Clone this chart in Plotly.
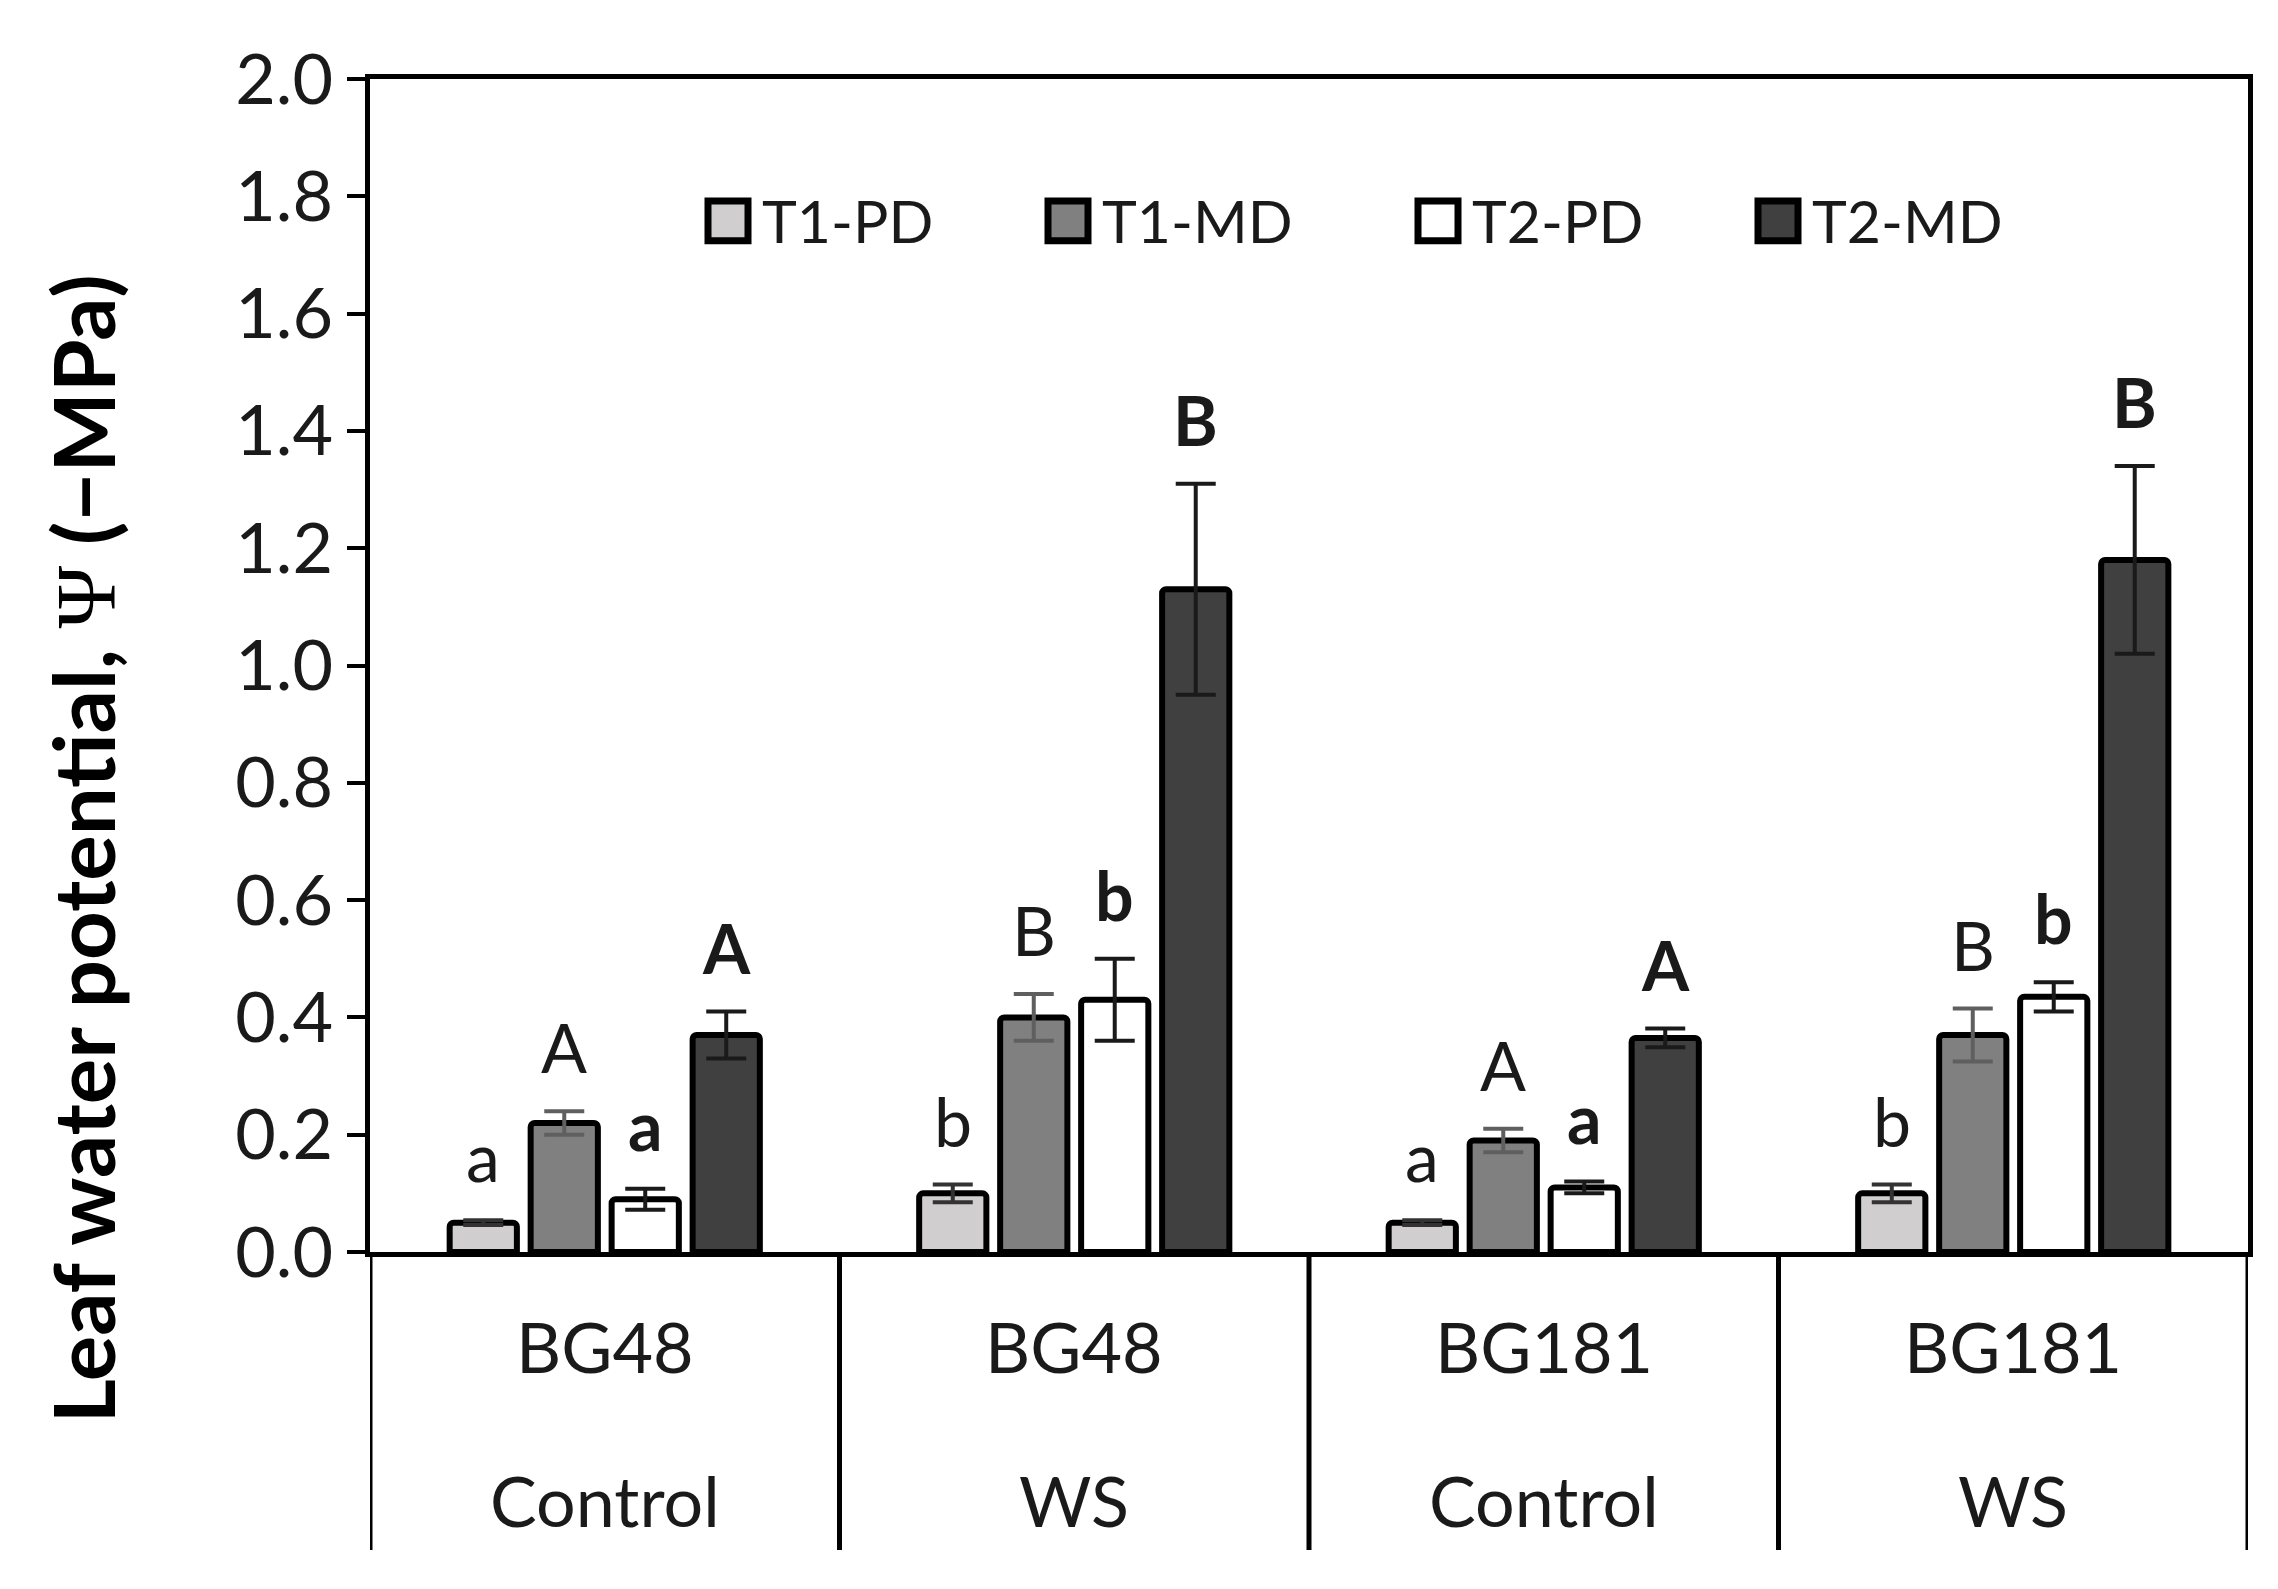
import plotly.graph_objects as go

# ---- data ----
genotype = ["BG48", "BG48", "BG181", "BG181"]
treatment = ["Control", "WS", "Control", "WS"]
groups = [g + " " + t for g, t in zip(genotype, treatment)]

series = ["T1-PD", "T1-MD", "T2-PD", "T2-MD"]
t1_pd = [0.05, 0.10, 0.05, 0.10]
t1_md = [0.22, 0.40, 0.19, 0.37]
t2_pd = [0.09, 0.43, 0.11, 0.435]
t2_md = [0.37, 1.13, 0.365, 1.18]
t1_pd_err = [0.004, 0.015, 0.004, 0.015]
t1_md_err = [0.02, 0.04, 0.02, 0.045]
t2_pd_err = [0.018, 0.07, 0.01, 0.025]
t2_md_err = [0.04, 0.18, 0.016, 0.16]
t1_pd_let = ["a", "b", "a", "b"]
t1_md_let = ["A", "B", "A", "B"]
t2_pd_let = ["a", "b", "a", "b"]
t2_md_let = ["A", "B", "A", "B"]

values = [t1_pd, t1_md, t2_pd, t2_md]
errors = [t1_pd_err, t1_md_err, t2_pd_err, t2_md_err]
letters = [t1_pd_let, t1_md_let, t2_pd_let, t2_md_let]
bold_letters = [False, False, True, True]
fills = ["#d0cece", "#808080", "#ffffff", "#404040"]
err_cols = ["#333333", "#5f5f5f", "#1a1a1a", "#1a1a1a"]

FONT = "Lato"
TXT = "#1a1a1a"
W, H = 2278, 1589
L, R, T, B = 362, 38, 71, 345

fig = go.Figure()

for k in range(4):
    fig.add_trace(go.Bar(
        x=groups, y=values[k], name=series[k],
        marker=dict(color=fills[k], line=dict(color="black", width=6), cornerradius=4),
        error_y=dict(type="data", array=errors[k], color=err_cols[k],
                     thickness=4, width=20),
        showlegend=False,
    ))

#-----------------------------------------------------------------
# significance letters above the error bars
#-----------------------------------------------------------------
bargap = 0.31
grp_w = 1 - bargap
ann = []
for k in range(4):
    off = -grp_w / 2 + grp_w / 4 * (k + 0.5)
    for i in range(len(groups)):
        txt = letters[k][i]
        if bold_letters[k]:
            txt = "<b>" + txt + "</b>"
        ann.append(dict(x=i + off, y=values[k][i] + errors[k][i], xref="x", yref="y",
                        text=txt, showarrow=False, yanchor="bottom", yshift=22,
                        font=dict(family=FONT, size=68, color=TXT)))

#-----------------------------------------------------------------
# two-row category labels + box dividers under the axis
#-----------------------------------------------------------------
for i in range(len(groups)):
    ann.append(dict(x=i, y=-0.080, xref="x", yref="paper", text=genotype[i],
                    showarrow=False, yanchor="middle",
                    font=dict(family=FONT, size=70, color=TXT)))
    ann.append(dict(x=i, y=-0.211, xref="x", yref="paper", text=treatment[i],
                    showarrow=False, yanchor="middle",
                    font=dict(family=FONT, size=70, color=TXT)))

shapes = []
for i in range(len(groups) + 1):
    shapes.append(dict(type="line", xref="x", yref="paper", x0=i - 0.5, x1=i - 0.5,
                       y0=0, y1=-0.254, line=dict(color="black", width=5)))

# y title (kept as annotation so it can sit below centre like the original)
ann.append(dict(x=-0.153, y=0.344, xref="paper", yref="paper", textangle=-90,
                text="<b>Leaf water potential, </b><span style=\"font-family:'Liberation Serif'\">Ψ</span><b> (−MPa)</b>",
                showarrow=False, xanchor="center", yanchor="middle",
                font=dict(family=FONT, size=85, color="black")))

#-----------------------------------------------------------------
# legend inside the plot area
#-----------------------------------------------------------------
pw = W - L - R
def px(xo):
    return (xo - L) / pw

leg_sq = [700, 1040, 1410, 1750]
for k in range(4):
    shapes.append(dict(type="rect", xref="paper", yref="paper",
                       x0=px(leg_sq[k]), x1=px(leg_sq[k] + 40),
                       y0=0.862, y1=0.896, fillcolor=fills[k],
                       line=dict(color="black", width=7)))
    ann.append(dict(x=px(leg_sq[k] + 52), y=0.879, xref="paper", yref="paper",
                    text=series[k], showarrow=False, xanchor="left", yanchor="middle",
                    font=dict(family=FONT, size=59, color=TXT)))

fig.update_layout(
    width=W, height=H,
    margin=dict(l=L, r=R, t=T, b=B),
    plot_bgcolor="white", paper_bgcolor="white",
    barmode="group", bargap=bargap, bargroupgap=0.17,
    annotations=ann, shapes=shapes,
    xaxis=dict(type="category", range=[-0.5, 3.5], showticklabels=False,
               showline=True, linecolor="black", linewidth=5, mirror=True,
               ticks="", showgrid=False, zeroline=False),
    yaxis=dict(range=[0, 2.0], dtick=0.2, tickformat=".1f",
               ticks="outside", ticklen=18, tickwidth=4, tickcolor="black",
               showline=True, linecolor="black", linewidth=5, mirror=True,
               showgrid=False, zeroline=False,
               tickfont=dict(family=FONT, size=70, color=TXT)),
)

fig.write_html("out.html")
